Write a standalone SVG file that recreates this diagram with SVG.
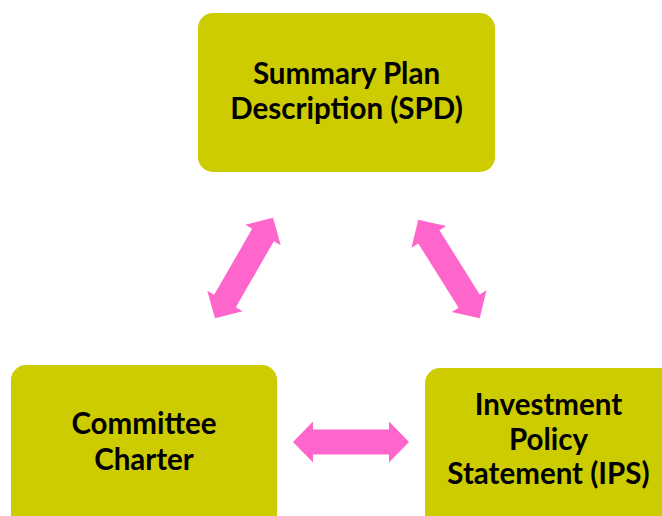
<svg xmlns="http://www.w3.org/2000/svg" xmlns:xlink="http://www.w3.org/1999/xlink" width="662" height="516" viewBox="0 0 662 516">
  <style>
    .box { fill: #CCCC00; }
    .label { font-family: Lato, "Open Sans", "Liberation Sans", sans-serif; font-weight: bold; font-size: 29.5px; fill: #000; text-anchor: middle; }
    .arrow { fill: #FF66CC; }
  </style>
  <defs>
    <!-- double-headed block arrow, centred on the origin, pointing along x -->
    <path id="dbl" d="M -58,0 L -38,-20.5 L -38,-12.5 L 38,-12.5 L 38,-20.5 L 58,0 L 38,20.5 L 38,12.5 L -38,12.5 L -38,20.5 Z"/>
  </defs>
  <rect width="662" height="516" fill="#FFFFFF"/>

  <g id="connectors" class="arrow">
    <use xlink:href="#dbl" transform="translate(244,268) rotate(-60)"/>
    <use xlink:href="#dbl" transform="translate(449,269) rotate(58)"/>
    <use xlink:href="#dbl" transform="translate(351,442)"/>
  </g>

  <g id="spd">
    <rect class="box" x="198" y="13" width="297" height="159" rx="15"/>
    <text class="label" x="346.5" y="84">Summary Plan</text>
    <text class="label" x="346.5" y="119">Description (SPD)</text>
  </g>

  <g id="charter">
    <rect class="box" x="11" y="365" width="266" height="170" rx="15"/>
    <text class="label" x="144" y="434">Committee</text>
    <text class="label" x="144" y="470">Charter</text>
  </g>

  <g id="ips">
    <rect class="box" x="425" y="368" width="260" height="170" rx="15"/>
    <text class="label" x="548.5" y="415">Investment</text>
    <text class="label" x="548.5" y="450">Policy</text>
    <text class="label" x="548.5" y="484">Statement (IPS)</text>
  </g>
</svg>
